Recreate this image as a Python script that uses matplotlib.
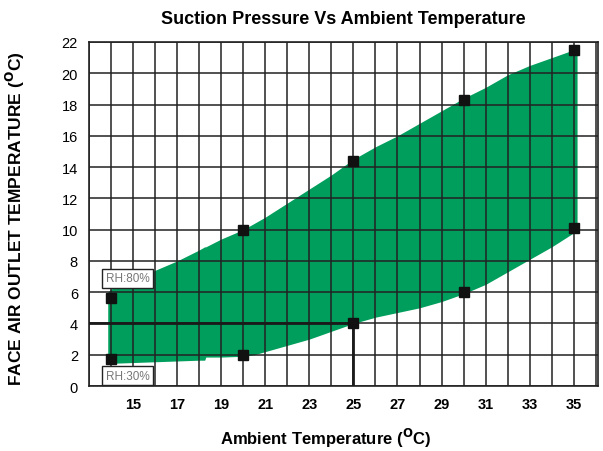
import matplotlib
matplotlib.use("Agg")
import matplotlib.pyplot as plt
import numpy as np

plt.rcParams['font.family'] = ['Liberation Sans', 'DejaVu Sans']

# measured operating points (ambient temp, outlet temp)
point_x = [14, 14, 20, 20, 25, 25, 30, 30, 35, 35]
point_y = [5.6, 1.7, 10.0, 2.0, 14.4, 4.0, 18.3, 6.0, 21.5, 10.1]

# outline of the operating envelope
env_x = [13.85, 14, 15, 16, 17, 18, 18.25, 18.3, 19, 20, 20.5, 21, 22, 23, 24, 25,
         26, 27, 28, 29, 30, 31, 32, 33, 34, 35, 35.15]
env_top = [6.0, 6.2, 6.8, 7.4, 8.0, 8.7, 8.9, 8.9, 9.4, 10.0, 10.4, 10.8, 11.7, 12.6, 13.5, 14.5,
           15.3, 16.0, 16.8, 17.6, 18.4, 19.1, 19.9, 20.5, 21.0, 21.5, 21.6]
env_bottom = [1.4, 1.45, 1.5, 1.55, 1.6, 1.65, 1.65, 1.85, 1.85, 1.9, 2.0, 2.2, 2.6, 3.0, 3.5, 4.0,
              4.4, 4.7, 5.0, 5.4, 5.9, 6.5, 7.3, 8.1, 8.9, 9.8, 10.0]

x_ticks = [15, 17, 19, 21, 23, 25, 27, 29, 31, 33, 35]
y_ticks = [0, 2, 4, 6, 8, 10, 12, 14, 16, 18, 20, 22]

fig = plt.figure(figsize=(6.03, 4.52), dpi=100)
ax = fig.add_axes([0.1476, 0.1438, 0.8441, 0.7611])

ax.fill_between(env_x, env_bottom, env_top, color='#009e5c', linewidth=0, zorder=1)

# grid: every degree on x, every 2 on y
for gx in np.arange(13, 37, 1):
    ax.axvline(gx, color='#222222', lw=1.1, zorder=2)
for gy in y_ticks:
    ax.axhline(gy, color='#222222', lw=1.1, zorder=2)

# reference lines to the 25 C point
ax.plot([13, 25], [4, 4], color='#1a1a1a', lw=2.0, zorder=3)
ax.plot([25, 25], [0, 4], color='#1a1a1a', lw=2.0, zorder=3)

ax.plot(point_x, point_y, 's', color='#111111', markersize=7, zorder=4)

box = dict(boxstyle='square,pad=0.3', fc='white', ec='#222222', lw=1.0)
ax.text(14.75, 6.9, 'RH:80%', fontsize=8.5, color='#777777', ha='center', va='center', bbox=box, zorder=5)
ax.text(14.75, 0.65, 'RH:30%', fontsize=8.5, color='#777777', ha='center', va='center', bbox=box, zorder=5)

ax.set_xlim(13, 36.1)
ax.set_ylim(0, 22)
ax.set_xticks(x_ticks)
ax.set_yticks(y_ticks)
ax.tick_params(length=0, labelsize=10.5, pad=8)
for lbl in ax.get_xticklabels():
    lbl.set_fontweight('bold')
for s in ax.spines.values():
    s.set_color('#222222')
    s.set_linewidth(1.2)

ax.set_title('Suction Pressure Vs Ambient Temperature', fontsize=13, fontweight='bold', pad=14)
ax.set_xlabel(r'Ambient Temperature ($\mathbf{^{O}}$C)', fontsize=12, fontweight='bold')
ax.xaxis.set_label_coords(0.465, -0.115)
ax.set_ylabel(r'FACE AIR OUTLET TEMPERATURE ($\mathbf{^{O}}$C)', fontsize=12.5, fontweight='bold')
ax.yaxis.set_label_coords(-0.122, 0.49)

fig.savefig('out.png', dpi=100)
